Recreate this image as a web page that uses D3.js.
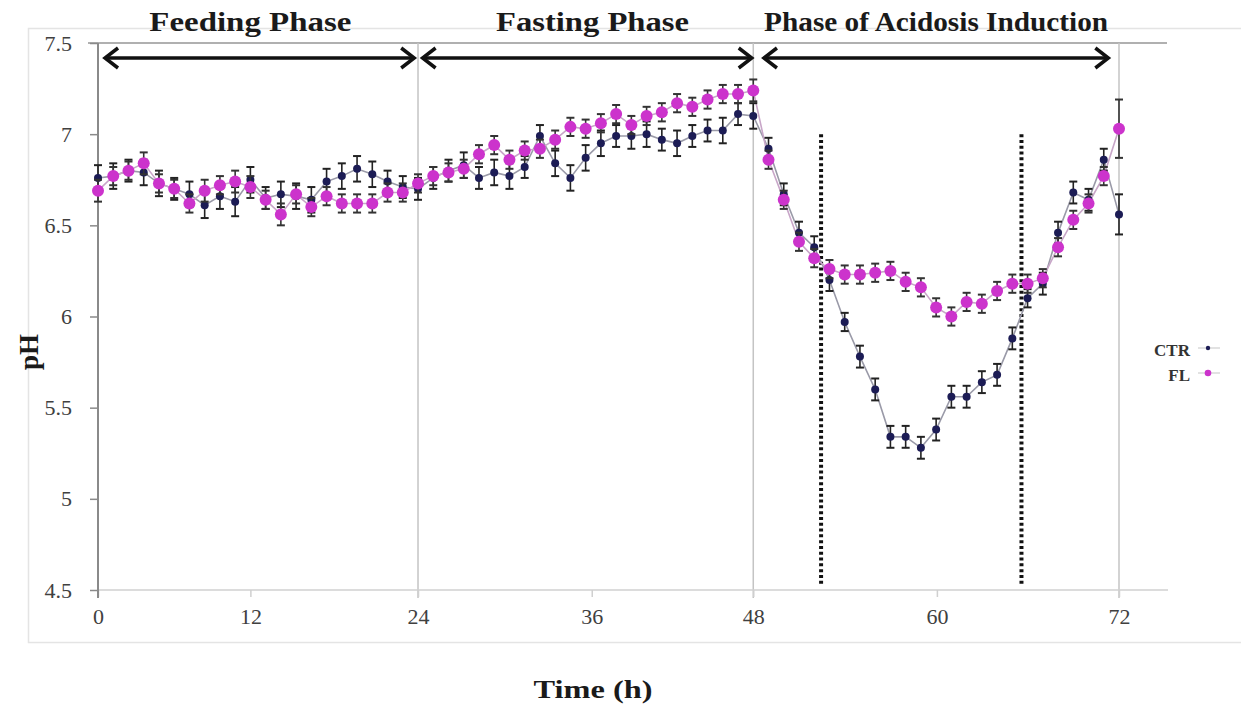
<!DOCTYPE html>
<html><head><meta charset="utf-8">
<script src="https://cdn.jsdelivr.net/npm/d3@7"></script>
<style>body{margin:0;background:#fff}svg{display:block}</style>
</head><body>
<svg id="chart" width="1241" height="712"></svg>
<script>
// ---- data (sampling points, evenly spaced along the time axis) ----
const ctrValues = [6.76,6.77,6.80,6.79,6.73,6.70,6.67,6.61,6.66,6.63,6.75,6.65,6.67,6.66,6.64,6.74,6.77,6.81,6.78,6.74,6.71,6.70,
  6.76,6.80,6.83,6.76,6.79,6.77,6.82,6.99,6.84,6.76,6.87,6.95,6.99,6.99,7.00,6.97,6.95,6.99,7.02,7.02,7.11,7.10,
  6.92,6.67,6.46,6.38,6.20,5.97,5.78,5.60,5.34,5.34,5.28,5.38,5.56,5.56,5.64,5.68,5.88,6.10,6.18,6.46,6.68,6.64,6.86,6.56];
const ctrErrors = [0.07,0.07,0.06,0.07,0.07,0.06,0.07,0.07,0.07,0.08,0.07,0.06,0.07,0.07,0.07,0.07,0.07,0.07,0.07,0.06,0.06,0.06,
  0.06,0.06,0.07,0.06,0.07,0.07,0.06,0.06,0.07,0.07,0.07,0.07,0.06,0.07,0.07,0.06,0.07,0.06,0.06,0.07,0.06,0.07,
  0.06,0.06,0.06,0.06,0.06,0.05,0.06,0.06,0.06,0.06,0.06,0.06,0.06,0.06,0.06,0.06,0.06,0.05,0.06,0.06,0.06,0.06,0.06,0.11];
const flValues = [6.69,6.77,6.80,6.84,6.73,6.70,6.62,6.69,6.72,6.74,6.71,6.64,6.56,6.67,6.60,6.66,6.62,6.62,6.62,6.68,6.68,6.73,
  6.77,6.79,6.81,6.89,6.94,6.86,6.91,6.92,6.97,7.04,7.03,7.06,7.11,7.05,7.10,7.12,7.17,7.15,7.19,7.22,7.22,7.24,
  6.86,6.64,6.41,6.32,6.26,6.23,6.23,6.24,6.25,6.19,6.16,6.05,6.00,6.08,6.07,6.14,6.18,6.18,6.21,6.38,6.53,6.62,6.77,7.03];
const flErrors = [0.06,0.05,0.05,0.06,0.05,0.05,0.05,0.06,0.05,0.06,0.06,0.05,0.06,0.05,0.05,0.05,0.05,0.05,0.05,0.05,0.05,0.05,
  0.05,0.05,0.05,0.05,0.05,0.05,0.05,0.05,0.05,0.05,0.05,0.05,0.05,0.05,0.05,0.05,0.05,0.05,0.05,0.05,0.05,0.06,
  0.05,0.05,0.05,0.05,0.05,0.05,0.05,0.05,0.05,0.05,0.05,0.05,0.05,0.05,0.05,0.05,0.05,0.05,0.05,0.05,0.05,0.05,0.05,0.16];
const seriesNames = ["CTR", "FL"];
const xTickIndex = [0, 10, 21, 32.4, 43, 55.05, 67];
const xTickLabels = ["0", "12", "24", "36", "48", "60", "72"];
const xGridIndex = [21, 43, 67];
const yTickValues = [4.5, 5, 5.5, 6, 6.5, 7, 7.5];
const yTickLabels = ["4.5", "5", "5.5", "6", "6.5", "7", "7.5"];
const phaseNames = ["Feeding Phase", "Fasting Phase", "Phase of Acidosis Induction"];
const phaseStart = [0.46, 21.3, 43.7];
const phaseEnd = [20.75, 42.9, 66.3];
const phaseCenter = [10, 32.45, 55];
const markerIndex = [47.45, 60.6];

// ---- layout ----
const svg = d3.select("#chart");
const pLeft = 98, pRight = 1119, pTop = 43, pBottom = 590;
const x = d3.scaleLinear().domain([0, ctrValues.length - 1]).range([pLeft, pRight]);
const y = d3.scaleLinear().domain([4.5, 7.5]).range([pBottom, pTop]);
const serif = "Liberation Serif, Times New Roman, serif";

// outer chart frame
svg.append("rect").attr("x", 28.5).attr("y", 28.5).attr("width", 1240).attr("height", 614)
  .attr("fill", "none").attr("stroke", "#e4e4e4").attr("stroke-width", 1.5);

// top border line
svg.append("line").attr("x1", pLeft - 10).attr("x2", 1167).attr("y1", pTop).attr("y2", pTop)
  .attr("stroke", "#b0b0b0").attr("stroke-width", 2);

// vertical gridlines
svg.append("g").selectAll("line").data(xGridIndex).join("line")
  .attr("x1", d => x(d)).attr("x2", d => x(d)).attr("y1", pTop).attr("y2", pBottom + 8)
  .attr("stroke", "#c4c4c4").attr("stroke-width", 1.5);

// x axis
const xAxis = svg.append("g").attr("transform", `translate(0,${pBottom})`)
  .call(d3.axisBottom(x).tickValues(xTickIndex).tickFormat((d, i) => xTickLabels[i]).tickSize(7).tickPadding(8));
xAxis.select(".domain").attr("d", `M${pLeft},0H1168`).attr("stroke", "#d0d0d0").attr("stroke-width", 1.5);
xAxis.selectAll(".tick line").attr("stroke", "#d0d0d0").attr("stroke-width", 1.5);
xAxis.selectAll(".tick text").attr("font-family", serif).attr("font-size", 22).attr("fill", "#404040").attr("dy", "0.85em");

// y axis
const yAxis = svg.append("g").attr("transform", `translate(${pLeft},0)`)
  .call(d3.axisLeft(y).tickValues(yTickValues).tickFormat((d, i) => yTickLabels[i]).tickSize(8).tickPadding(18));
yAxis.select(".domain").attr("d", `M0,${pTop}V${pBottom + 8}`).attr("stroke", "#8a8a8a").attr("stroke-width", 2);
yAxis.selectAll(".tick line").attr("stroke", "#8a8a8a").attr("stroke-width", 1.5);
yAxis.selectAll(".tick text").attr("font-family", serif).attr("font-size", 22).attr("fill", "#404040");

// dotted marker lines
svg.append("g").selectAll("line").data(markerIndex).join("line")
  .attr("x1", d => x(d)).attr("x2", d => x(d)).attr("y1", y(7.0)).attr("y2", pBottom - 4)
  .attr("stroke", "#111").attr("stroke-width", 4).attr("stroke-dasharray", "3,2.8");

// phase arrows and titles
const arrowY = 58;
const arrows = svg.append("g");
phaseNames.forEach((name, i) => {
  const a = x(phaseStart[i]), b = x(phaseEnd[i]);
  arrows.append("line").attr("x1", a + 2).attr("x2", b - 2).attr("y1", arrowY).attr("y2", arrowY)
    .attr("stroke", "#111").attr("stroke-width", 3.5);
  arrows.append("path").attr("d", `M${a + 13},${arrowY - 10}L${a},${arrowY}L${a + 13},${arrowY + 10}`)
    .attr("fill", "none").attr("stroke", "#111").attr("stroke-width", 3.5);
  arrows.append("path").attr("d", `M${b - 13},${arrowY - 10}L${b},${arrowY}L${b - 13},${arrowY + 10}`)
    .attr("fill", "none").attr("stroke", "#111").attr("stroke-width", 3.5);
});
const titleWidths = [202, 193, 344];
svg.append("g").selectAll("text").data(phaseNames).join("text")
  .attr("x", (d, i) => x(phaseCenter[i])).attr("y", 31).attr("text-anchor", "middle")
  .attr("font-family", serif).attr("font-weight", "bold").attr("font-size", 27).attr("fill", "#1a1a1a")
  .attr("textLength", (d, i) => titleWidths[i]).attr("lengthAdjust", "spacingAndGlyphs")
  .text(d => d);

// series
const series = [
  {name: seriesNames[0], values: ctrValues, errors: ctrErrors, color: "#1c1c55", line: "#9a9aa8", r: 4, bar: "#222"},
  {name: seriesNames[1], values: flValues, errors: flErrors, color: "#cc33cc", line: "#c8a6c8", r: 6, bar: "#333"}
];
const lineGen = d3.line().x((d, i) => x(i)).y(d => y(d));
series.forEach(s => {
  svg.append("path").datum(s.values).attr("d", lineGen).attr("fill", "none")
    .attr("stroke", s.line).attr("stroke-width", 1.6);
});
series.forEach(s => {
  const g = svg.append("g");
  const pts = s.values.map((v, i) => ({i, v, e: s.errors[i]}));
  g.selectAll("line.bar").data(pts).join("line").attr("class", "bar")
    .attr("x1", d => x(d.i)).attr("x2", d => x(d.i)).attr("y1", d => y(d.v - d.e)).attr("y2", d => y(d.v + d.e))
    .attr("stroke", s.bar).attr("stroke-width", 1.6);
  g.selectAll("line.capt").data(pts).join("line").attr("class", "capt")
    .attr("x1", d => x(d.i) - 4).attr("x2", d => x(d.i) + 4).attr("y1", d => y(d.v + d.e)).attr("y2", d => y(d.v + d.e))
    .attr("stroke", s.bar).attr("stroke-width", 2);
  g.selectAll("line.capb").data(pts).join("line").attr("class", "capb")
    .attr("x1", d => x(d.i) - 4).attr("x2", d => x(d.i) + 4).attr("y1", d => y(d.v - d.e)).attr("y2", d => y(d.v - d.e))
    .attr("stroke", s.bar).attr("stroke-width", 2);
  g.selectAll("circle").data(pts).join("circle")
    .attr("cx", d => x(d.i)).attr("cy", d => y(d.v)).attr("r", s.r).attr("fill", s.color);
});

// legend
const legend = svg.append("g");
series.forEach((s, i) => {
  const ly = 350 + i * 25;
  legend.append("text").attr("x", 1190).attr("y", ly + 6).attr("text-anchor", "end")
    .attr("font-family", serif).attr("font-weight", "bold").attr("font-size", 17).attr("fill", "#333").text(s.name);
  legend.append("line").attr("x1", 1198).attr("x2", 1220).attr("y1", ly - 2).attr("y2", ly - 2)
    .attr("stroke", "#d8d8d8").attr("stroke-width", 1.5);
  legend.append("circle").attr("cx", 1208).attr("cy", ly - 2).attr("r", s.r * 0.55).attr("fill", s.color);
});

// axis titles
svg.append("text").attr("transform", "translate(38,352) rotate(-90)").attr("text-anchor", "middle")
  .attr("font-family", serif).attr("font-weight", "bold").attr("font-size", 27).attr("fill", "#1a1a1a").text("pH");
svg.append("text").attr("x", 593).attr("y", 698).attr("text-anchor", "middle")
  .attr("font-family", serif).attr("font-weight", "bold").attr("font-size", 26).attr("fill", "#1a1a1a")
  .attr("textLength", 119).attr("lengthAdjust", "spacingAndGlyphs").text("Time (h)");
</script>
</body></html>
